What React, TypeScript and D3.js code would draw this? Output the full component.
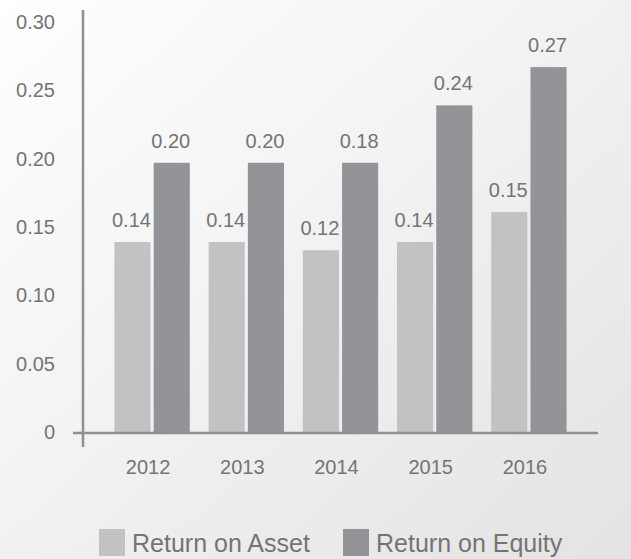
import React from 'react'
import * as d3 from 'd3'

const years = ['2012', '2013', '2014', '2015', '2016']
const seriesNames = ['Return on Asset', 'Return on Equity']
// bar heights as drawn
const roaValues = [0.139, 0.139, 0.133, 0.139, 0.161]
const roeValues = [0.197, 0.197, 0.197, 0.239, 0.267]
// labels as printed
const roaLabels = ['0.14', '0.14', '0.12', '0.14', '0.15']
const roeLabels = ['0.20', '0.20', '0.18', '0.24', '0.27']
const yTicks = [0, 0.05, 0.1, 0.15, 0.2, 0.25, 0.3]
const colors = ['#c1c2c4', '#939497']

const width = 631
const height = 559
const font = '"Liberation Sans", Arial, sans-serif'
const textColor = '#747476'
const axisColor = '#8f9093'

const App = () => {
    const yScale = d3.scaleLinear().domain([0, 0.3]).range([432, 22])
    const x0 = d3
        .scaleBand()
        .domain(years)
        .range([105, 576])
        .paddingInner(0.2)
        .paddingOuter(0.1)
    const x1 = d3
        .scaleBand()
        .domain(seriesNames)
        .range([0, x0.bandwidth()])
        .paddingInner(0.08)

    const series = [
        { name: seriesNames[0], values: roaValues, labels: roaLabels },
        { name: seriesNames[1], values: roeValues, labels: roeLabels },
    ]

    const fmt = (d: number) => (d === 0 ? '0' : d3.format('.2f')(d))

    return (
        <div style={{ position: 'fixed', left: 0, top: 0 }}>
            <svg width={width} height={height} style={{ display: 'block' }}>
                <defs>
                    <linearGradient id="bg" x1="0" y1="0" x2="1" y2="1">
                        <stop offset="0%" stopColor="#ffffff" />
                        <stop offset="100%" stopColor="#e3e3e4" />
                    </linearGradient>
                </defs>
                <rect x={0} y={0} width={width} height={height} fill="url(#bg)" />

                {/* y tick labels */}
                {yTicks.map((t) => (
                    <text
                        key={t}
                        x={55}
                        y={yScale(t)}
                        dy="0.35em"
                        textAnchor="end"
                        fontFamily={font}
                        fontSize={20}
                        fill={textColor}
                    >
                        {fmt(t)}
                    </text>
                ))}

                {/* bars */}
                {series.map((s, si) =>
                    years.map((yr, i) => (
                        <rect
                            key={s.name + yr}
                            x={(x0(yr) as number) + (x1(s.name) as number)}
                            y={yScale(s.values[i])}
                            width={x1.bandwidth()}
                            height={yScale(0) - yScale(s.values[i])}
                            fill={colors[si]}
                        />
                    ))
                )}

                {/* value labels */}
                {series.map((s) =>
                    years.map((yr, i) => (
                        <text
                            key={'l' + s.name + yr}
                            x={(x0(yr) as number) + (x1(s.name) as number) + x1.bandwidth() / 2 - 1}
                            y={yScale(s.values[i]) - 15}
                            textAnchor="middle"
                            fontFamily={font}
                            fontSize={20}
                            fill={textColor}
                        >
                            {s.labels[i]}
                        </text>
                    ))
                )}

                {/* axes */}
                <line x1={83} x2={83} y1={10} y2={447} stroke={axisColor} strokeWidth={2.5} />
                <line x1={73} x2={598} y1={yScale(0) + 1} y2={yScale(0) + 1} stroke={axisColor} strokeWidth={2.5} />

                {/* x labels */}
                {years.map((yr) => (
                    <text
                        key={'x' + yr}
                        x={(x0(yr) as number) + x0.bandwidth() / 2 - 4}
                        y={467}
                        dy="0.35em"
                        textAnchor="middle"
                        fontFamily={font}
                        fontSize={20}
                        fill={textColor}
                    >
                        {yr}
                    </text>
                ))}

                {/* legend */}
                {seriesNames.map((name, i) => (
                    <g key={'lg' + name} transform={`translate(${i === 0 ? 99 : 343}, 529)`}>
                        <rect x={0} y={0} width={26} height={27} fill={colors[i]} />
                        <text x={33} y={14} dy="0.35em" fontFamily={font} fontSize={25} fill={textColor}>
                            {name}
                        </text>
                    </g>
                ))}
            </svg>
        </div>
    )
}

export default App
